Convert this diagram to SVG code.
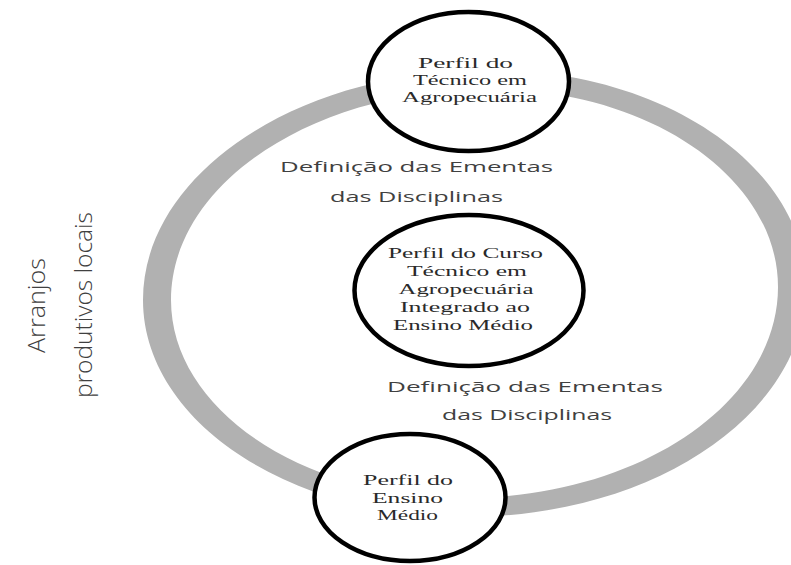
<svg xmlns="http://www.w3.org/2000/svg" width="791" height="565" viewBox="0 0 791 565">
<style>
.node{fill:#fff;stroke:#000;stroke-width:4.5}
.st{font-family:"Liberation Serif","Times New Roman",serif;font-size:14.5px;fill:#2a2a2a;text-anchor:middle}
.lab{font-family:"Open Sans","Noto Sans",sans-serif;font-size:15px;fill:#404040;text-anchor:middle}
.side{font-family:"Open Sans","Noto Sans",sans-serif;font-weight:300;font-size:24px;fill:#404040;text-anchor:middle}
</style>
<rect width="791" height="565" fill="#fff"/>
<g id="connectors">
<path fill="#b1b1b1" fill-rule="evenodd" d="M143,300 C143,173 298.4,70 490,70 C664.5,70 806,167.2 806,287 C806,414 653.3,517 465,517 C287.2,517 143,419.8 143,300 Z M171,300 C171,183.5 313.8,89 490,89 C649.1,89 778,177.6 778,287 C778,403.5 637.9,498 465,498 C302.6,498 171,409.4 171,300 Z"/>
</g>
<g id="side-label">
<text class="side" transform="translate(45,305.5) rotate(-90)" textLength="95" lengthAdjust="spacingAndGlyphs">Arranjos</text>
<text class="side" transform="translate(91.5,305) rotate(-90)" textLength="186" lengthAdjust="spacingAndGlyphs">produtivos locais</text>
</g>
<g id="label-top">
<text class="lab" x="416.5" y="172" textLength="273" lengthAdjust="spacingAndGlyphs">Definição das Ementas</text>
<text class="lab" x="416.5" y="202" textLength="173" lengthAdjust="spacingAndGlyphs">das Disciplinas</text>
</g>
<g id="label-bottom">
<text class="lab" x="525" y="392" textLength="276" lengthAdjust="spacingAndGlyphs">Definição das Ementas</text>
<text class="lab" x="527" y="420" textLength="170" lengthAdjust="spacingAndGlyphs">das Disciplinas</text>
</g>
<g id="node-tecnico">
<ellipse class="node" cx="468.5" cy="81.5" rx="100.5" ry="69.5"/>
<text class="st" x="465.5" y="68" textLength="95" lengthAdjust="spacingAndGlyphs">Perfil  do</text>
<text class="st" x="470" y="85" textLength="114" lengthAdjust="spacingAndGlyphs">Técnico em</text>
<text class="st" x="469.5" y="102" textLength="135" lengthAdjust="spacingAndGlyphs">Agropecuária</text>
</g>
<g id="node-curso">
<ellipse class="node" cx="469" cy="290.5" rx="114.5" ry="75.5"/>
<text class="st" x="465.5" y="258" textLength="155" lengthAdjust="spacingAndGlyphs">Perfil do Curso</text>
<text class="st" x="467" y="276" textLength="120" lengthAdjust="spacingAndGlyphs">Técnico em</text>
<text class="st" x="466" y="294" textLength="135" lengthAdjust="spacingAndGlyphs">Agropecuária</text>
<text class="st" x="465" y="312" textLength="130" lengthAdjust="spacingAndGlyphs">Integrado ao</text>
<text class="st" x="463" y="330" textLength="140" lengthAdjust="spacingAndGlyphs">Ensino Médio</text>
</g>
<g id="node-ensino">
<ellipse class="node" cx="410" cy="497.5" rx="95.5" ry="63.5"/>
<text class="st" x="408" y="485" textLength="90" lengthAdjust="spacingAndGlyphs">Perfil do</text>
<text class="st" x="407.5" y="503" textLength="71" lengthAdjust="spacingAndGlyphs">Ensino</text>
<text class="st" x="407.5" y="520" textLength="61" lengthAdjust="spacingAndGlyphs">Médio</text>
</g>
</svg>
